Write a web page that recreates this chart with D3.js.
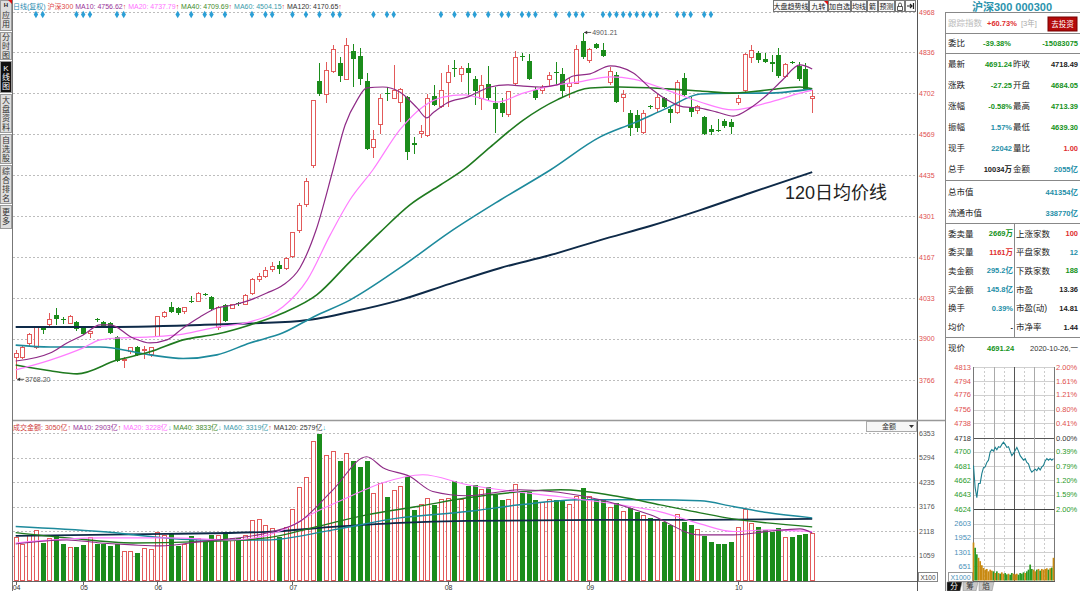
<!DOCTYPE html>
<html>
<head>
<meta charset="utf-8">
<script src="https://cdn.jsdelivr.net/npm/d3@7"></script>
<style>
body { margin: 0; background: #fff; }
svg { display: block; }
text { font-family: "Liberation Sans", "Noto Sans CJK SC", sans-serif; }
</style>
</head>
<body>
<div id="chart"></div>
<script>
// ---- daily candles ----
var open  = [3841,3841,3884,3871,3935,3946,3978,3965,3952,3955,3939,3919,3965,3955,3951,3907,3830,3858,3874,3862,3848,3907,3975,4004,4001,3991,4025,4024,4047,4037,3936,4011,4001,4016,4014,4050,4093,4105,4128,4140,4130,4170,4255,4340,4468,4743,4700,4775,4801,4749,4841,4825,4744,4527,4602,4702,4687,4674,4690,4540,4570,4566,4694,4658,4739,4785,4765,4785,4749,4684,4733,4671,4671,4632,4733,4823,4808,4713,4713,4749,4772,4765,4726,4736,4873,4808,4863,4844,4739,4762,4690,4638,4632,4576,4660,4654,4687,4651,4641,4752,4658,4645,4625,4586,4582,4612,4609,4671,4710,4818,4834,4815,4805,4828,4756,4805,4790,4782,4684]
var high  = [3864,3880,3920,3940,3938,3985,4001,3971,3978,3960,3942,3927,3968,3960,3955,3910,3842,3875,3876,3878,3875,3975,3992,4021,4005,4006,4040,4052,4050,4040,4008,4015,4015,4022,4046,4100,4115,4135,4150,4155,4168,4250,4345,4425,4680,4802,4805,4860,4821,4883,4863,4850,4770,4583,4700,4723,4795,4720,4695,4560,4600,4700,4730,4770,4795,4811,4790,4801,4760,4762,4790,4723,4687,4710,4841,4834,4830,4723,4730,4772,4805,4785,4752,4860,4901,4850,4866,4866,4788,4772,4713,4648,4648,4648,4665,4700,4690,4658,4745,4770,4690,4665,4628,4600,4618,4618,4620,4697,4835,4860,4840,4835,4828,4850,4800,4808,4805,4800,4713]
var low   = [3768,3835,3878,3868,3915,3940,3946,3948,3950,3925,3912,3903,3957,3936,3915,3826,3805,3850,3845,3835,3840,3905,3970,3985,3978,3982,4018,4020,4040,3995,3930,3955,3998,4008,4010,4045,4085,4098,4118,4112,4125,4165,4245,4330,4460,4695,4671,4770,4739,4745,4723,4729,4518,4491,4570,4677,4683,4609,4485,4505,4555,4560,4660,4655,4658,4756,4740,4697,4665,4648,4680,4573,4625,4625,4730,4808,4745,4680,4700,4723,4729,4690,4687,4733,4815,4801,4847,4821,4729,4671,4641,4563,4575,4570,4650,4640,4655,4606,4635,4690,4625,4635,4565,4565,4576,4590,4570,4665,4705,4801,4800,4800,4772,4752,4752,4798,4742,4718,4639]
var close = [3851,3871,3916,3936,3929,3965,3965,3963,3972,3933,3916,3923,3961,3939,3920,3828,3834,3871,3848,3866,3871,3972,3988,3988,3985,4004,4023,4050,4044,3998,4004,3959,4011,4013,4043,4093,4103,4125,4138,4129,4163,4247,4335,4415,4678,4700,4778,4847,4759,4857,4814,4749,4520,4550,4684,4699,4713,4716,4511,4533,4578,4684,4664,4713,4772,4782,4782,4769,4710,4729,4687,4651,4638,4707,4821,4821,4749,4687,4723,4759,4769,4710,4736,4847,4821,4847,4850,4824,4775,4674,4697,4589,4589,4638,4657,4690,4658,4638,4739,4697,4641,4658,4570,4576,4580,4596,4592,4684,4828,4841,4811,4805,4798,4759,4798,4801,4750,4718,4691]
// turnover, axis units (x100)
var amount = [1868,1536,1924,2153,1609,1825,1924,1579,1436,1436,1536,1851,1579,1579,1493,1579,1247,1247,1204,1393,1350,2066,1924,2010,1493,1536,1924,1825,1678,1967,1924,2110,1825,1825,1924,2584,2614,2368,2256,1868,2299,3076,4025,4456,5992,6330,5375,5561,5130,5461,5130,4888,5130,3766,4197,3594,3878,4051,4456,3046,3261,3550,3261,3507,3550,4267,3507,4051,4124,3909,4038,3693,3477,3477,4124,3779,3822,3477,3348,3477,3477,3477,3261,3607,3995,3607,3477,3477,3132,3348,2959,3132,2959,2787,2700,2614,2528,2399,2830,2528,2399,2183,1924,1678,1579,1579,1652,2299,3076,2442,2299,2183,2110,2256,1868,1894,1967,2010,2041]

var monthLabels = ["04", "05", "06", "07", "08", "09", "10"]
var monthIndex = [0, 10, 21, 41, 64, 85, 107]
var priceTicks = [4968, 4836, 4702, 4569, 4435, 4301, 4167, 4033, 3900, 3766]
var amountTicks = [6353, 5294, 4235, 3176, 2118, 1059]
var signalIndex = [3,4,9,10,11,15,16,24,26,28,29,31,35,37,38,41,43,45,47,48,53,55,56,63,65,67,68,70,72,73,75,76,77,80,82,83,84,87,88,89,90,91,92,93,94,95,98,99,100,102,103]

// moving averages read at [bar index, value]
var ma10 = [[0,3828],[5.1,3854],[7.6,3887],[10,3913],[12.5,3946],[14,3946],[17.4,3903],[19.9,3887],[22.4,3897],[24.8,3936],[27.3,3972],[29.8,4001],[32.2,4011],[34.7,4027],[37.2,4050],[39.6,4076],[42.1,4132],[44.5,4256],[47,4452],[48.8,4599],[50.6,4681],[52,4720],[54.4,4723],[56.9,4707],[59.5,4654],[60.9,4622],[61.8,4638],[63.9,4671],[66.9,4690],[70.3,4723],[72.8,4730],[75.2,4726],[77.7,4723],[80.2,4730],[82.6,4759],[85.1,4766],[88.1,4792],[89.5,4788],[91.5,4769],[94,4720],[96.5,4681],[98.9,4658],[101.4,4654],[103.9,4641],[106.3,4628],[108.8,4654],[111.3,4697],[113.6,4746],[116.2,4795],[118,4782]]
var ma20 = [[0,3799],[5.1,3831],[10,3871],[12.5,3897],[15,3903],[19.9,3907],[24.8,3916],[29.8,3939],[34.7,3956],[39.6,4005],[43.2,4093],[46.6,4240],[49.5,4354],[52.9,4452],[56.9,4583],[60.3,4658],[63.3,4690],[66.3,4697],[68.3,4690],[71.3,4674],[75.2,4703],[80.2,4730],[83.2,4739],[88.1,4756],[91.5,4749],[96.5,4713],[101.4,4674],[106.3,4648],[111.3,4671],[116.2,4703],[118,4713]]
var ma40 = [[0,3815],[5.1,3796],[9.1,3786],[15,3831],[19.9,3858],[24.8,3897],[29.8,3916],[34.7,3946],[39.6,3985],[44.6,4044],[49.5,4152],[54,4249],[58.4,4338],[62.9,4403],[66.3,4452],[70.3,4527],[75.2,4615],[80.2,4681],[85.1,4720],[89.5,4723],[96.5,4717],[101.4,4710],[106.3,4703],[111.3,4713],[116.2,4723],[118,4717]]
var ma60 = [[0,3880],[5.1,3874],[12.5,3874],[19.9,3848],[24.8,3836],[29.8,3848],[34.7,3887],[39.6,3920],[44.1,3972],[49.5,4027],[56.9,4132],[64.3,4249],[71.8,4354],[79.2,4452],[86.6,4560],[91.5,4605],[96.5,4654],[101.4,4700],[106.3,4703],[111.3,4703],[118,4717]]
var ma120 = [[0,3939],[12.5,3939],[27.3,3946],[42.1,3959],[49.5,3988],[56.9,4027],[64.3,4080],[71.8,4132],[79.2,4174],[86.6,4223],[94,4269],[101.4,4321],[108.8,4377],[118,4445]]

var vma10 = [[0,1579],[7.6,1751],[12.5,1622],[17.4,1536],[21.4,1493],[27.3,1678],[37.2,2053],[42.1,2541],[47,3908],[52,5332],[54.4,4858],[58.4,4482],[61.8,3835],[66.9,3650],[74.7,3908],[86.6,3477],[94,2830],[101.4,1967],[106.3,1967],[111.3,2110],[116.2,2226],[118,2053]]
var vma20 = [[0,1622],[12.5,1838],[22.4,1838],[32.2,1751],[39.6,2183],[44.6,2972],[49.5,3619],[54.4,4210],[60.3,4556],[66.9,4124],[71.8,3908],[80.7,3607],[89.5,3261],[95.5,2959],[101.4,2442],[106.3,2110],[111.3,2183],[118,2110]]
var vma40 = [[0,2066],[7.6,1838],[17.4,1622],[27.3,1678],[37.2,1838],[44.6,2325],[52,2830],[59.5,3188],[66.9,3563],[74.7,3822],[80.7,3908],[89.5,3607],[95.5,3261],[101.4,2916],[106.3,2657],[111.3,2485],[118,2312]]
var vma60 = [[0,2325],[12.5,2110],[27.3,1751],[37.2,1751],[47,2183],[56.9,2700],[66.9,2972],[74.7,3261],[83.6,3477],[94,3477],[101.4,3434],[106.3,3188],[111.3,2929],[118,2700]]
var vma120 = [[0,1924],[22.4,2010],[37.2,2097],[47,2312],[56.9,2485],[66.9,2571],[86.6,2614],[101.4,2614],[118,2657]]

// intraday (every 5 minutes)
var minutePrice = [4682,4652,4639,4658,4658,4671,4679,4680,4686,4689,4700,4703,4701,4706,4703,4707,4706,4710,4713,4710,4706,4707,4701,4695,4698,4702,4706,4701,4695,4692,4689,4691,4686,4684,4677,4673,4675,4677,4675,4679,4676,4680,4682,4688,4691,4689,4691,4689,4691]
var minuteAmount = [1739,1500,1200,1040,886,700,576,500,529,420,498,451,420,343,420,343,312,374,312,343,281,312,266,343,312,281,312,266,343,312,374,343,420,498,731,529,498,420,498,529,451,529,498,529,560,498,560,591,1040]
var minuteTicks = [4813,4794,4776,4756,4738,4718,4700,4681,4662,4643,4624]
var minutePct = ["2.00%","1.61%","1.21%","0.80%","0.41%","0.00%","0.39%","0.79%","1.20%","1.59%","2.00%"]
var minuteAmountTicks = [2603, 1952, 1301, 651]

var up = "#e25a5a", down = "#1b8c1b"
var red = "#e03030", green = "#14921a", teal = "#1f8fa8", ink = "#222"

var svg = d3.select("#chart").append("svg")
	.attr("width", 1080)
	.attr("height", 591)
	.style("background", "#fff")

var x = d3.scaleLinear().domain([0, close.length - 1]).range([15.7, 812.2])
var y = d3.scaleLinear().domain([3766, 4968]).range([380, 12])
var yv = d3.scaleLinear().domain([0, 6353]).range([580.6, 433])

var bars = close.map((c, i) => ({i: i, o: open[i], h: high[i], l: low[i], c: c, v: amount[i], up: c >= open[i]}))

// ---- grid ----
var grid = svg.append("g").attr("stroke", "#bdbdbd").attr("stroke-dasharray", "2,2")
grid.selectAll(".pg").data(priceTicks).join("line")
	.attr("x1", 13).attr("x2", 917)
	.attr("y1", d => Math.round(y(d)) + 0.5).attr("y2", d => Math.round(y(d)) + 0.5)
grid.selectAll(".vg").data(amountTicks).join("line")
	.attr("class", "vg")
	.attr("x1", 13).attr("x2", 917)
	.attr("y1", d => Math.round(yv(d)) + 0.5).attr("y2", d => Math.round(yv(d)) + 0.5)

// ---- frame lines ----
svg.append("line").attr("x1", 12.5).attr("x2", 12.5).attr("y1", 0).attr("y2", 591).attr("stroke", "#777")
svg.append("line").attr("x1", 917.5).attr("x2", 917.5).attr("y1", 0).attr("y2", 591).attr("stroke", "#555")
svg.append("line").attr("x1", 13).attr("x2", 945).attr("y1", 420.5).attr("y2", 420.5).attr("stroke", "#999").attr("stroke-width", 1.6)
svg.append("line").attr("x1", 13).attr("x2", 917).attr("y1", 581.5).attr("y2", 581.5).attr("stroke", "#666")

// ---- price axis labels ----
svg.append("g").selectAll("text").data(priceTicks).join("text")
	.attr("x", 919).attr("y", d => y(d))
	.attr("dominant-baseline", "central")
	.attr("font-size", 7).attr("fill", "#e05050")
	.text(d => d)
svg.append("g").selectAll("text").data(amountTicks).join("text")
	.attr("x", 919).attr("y", d => yv(d))
	.attr("dominant-baseline", "central")
	.attr("font-size", 7).attr("fill", "#555")
	.text(d => d)
svg.append("rect").attr("x", 918.5).attr("y", 572.5).attr("width", 19).attr("height", 9).attr("fill", "#fff").attr("stroke", "#888")
svg.append("text").attr("x", 928).attr("y", 577.5).attr("text-anchor", "middle").attr("dominant-baseline", "central")
	.attr("font-size", 6.5).attr("fill", "#444").text("X100")

// ---- month axis ----
var mx = svg.append("g")
mx.selectAll("line").data(monthIndex).join("line")
	.attr("x1", d => Math.round(x(d)) + 0.5).attr("x2", d => Math.round(x(d)) + 0.5)
	.attr("y1", 581).attr("y2", 585).attr("stroke", "#666")
mx.selectAll("text").data(monthLabels).join("text")
	.attr("x", (d, i) => x(monthIndex[i]) - 3).attr("y", 587.5)
	.attr("dominant-baseline", "central")
	.attr("font-size", 7).attr("fill", "#333")
	.text(d => d)

// ---- candles ----
var cg = svg.append("g").attr("shape-rendering", "crispEdges")
cg.selectAll(".wick").data(bars).join("path")
	.attr("class", "wick")
	.attr("stroke", d => d.up ? up : down)
	.attr("fill", "none")
	.attr("d", d => {
		var cx = Math.round(x(d.i)) + 0.5
		if (!d.up) return `M${cx},${y(d.h)}L${cx},${y(d.l)}`
		return `M${cx},${y(d.h)}L${cx},${y(d.c)}M${cx},${y(d.o)}L${cx},${y(d.l)}`
	})
cg.selectAll(".body").data(bars).join("rect")
	.attr("class", "body")
	.attr("x", d => d.up ? Math.round(x(d.i)) - 1.5 : Math.round(x(d.i)) - 2)
	.attr("width", d => d.up ? 4 : 5)
	.attr("y", d => y(Math.max(d.o, d.c)))
	.attr("height", d => Math.max(Math.abs(y(d.o) - y(d.c)), 1))
	.attr("fill", d => d.up ? "#fff" : down)
	.attr("stroke", d => d.up ? up : "none")

// ---- volume bars ----
var vg = svg.append("g").attr("shape-rendering", "crispEdges")
vg.selectAll("rect").data(bars).join("rect")
	.attr("x", d => d.up ? Math.round(x(d.i)) - 1.5 : Math.round(x(d.i)) - 2)
	.attr("width", d => d.up ? 4 : 5)
	.attr("y", d => yv(d.v))
	.attr("height", d => yv(0) - yv(d.v))
	.attr("fill", d => d.up ? "#fff" : down)
	.attr("stroke", d => d.up ? up : "none")

// ---- moving average lines ----
var lineP = d3.line().x(d => x(d[0])).y(d => y(d[1])).curve(d3.curveMonotoneX)
var lineV = d3.line().x(d => x(d[0])).y(d => yv(d[1])).curve(d3.curveMonotoneX)
var maStyle = [
	[ma120, vma120, "#0e2a48", 2],
	[ma60, vma60, "#1d8a9c", 1.6],
	[ma40, vma40, "#1f7a1f", 1.6],
	[ma20, vma20, "#ff7cff", 1.2],
	[ma10, vma10, "#8e2a86", 1.2]
]
maStyle.forEach(s => {
	svg.append("path").datum(s[0]).attr("fill", "none").attr("stroke", s[2]).attr("stroke-width", s[3]).attr("d", lineP)
	svg.append("path").datum(s[1]).attr("fill", "none").attr("stroke", s[2]).attr("stroke-width", s[3] * 0.9).attr("d", lineV)
})

// ---- signal diamonds ----
svg.append("g").selectAll("path").data(signalIndex).join("path")
	.attr("transform", d => `translate(${x(d)},14.5)`)
	.attr("d", d3.symbol(d3.symbolDiamond, 17))
	.attr("fill", "#2b9fd6")

// ---- extreme markers ----
function marker(i, v, label) {
	var cx = x(i) + 1.5, cy = y(v)
	svg.append("line").attr("x1", cx).attr("x2", cx + 7).attr("y1", cy).attr("y2", cy).attr("stroke", "#333").attr("stroke-width", 0.8)
	svg.append("path").attr("d", `M${cx},${cy}l3,-1.8v3.6z`).attr("fill", "#333")
	svg.append("text").attr("x", cx + 8).attr("y", cy).attr("dominant-baseline", "central")
		.attr("font-size", 7).attr("fill", "#555").text(label)
}
marker(0, 3768.20, "3768.20")
marker(84, 4901.21, "4901.21")

svg.append("text").attr("x", 785).attr("y", 193).attr("dominant-baseline", "central")
	.attr("font-size", 18).attr("fill", "#222").text("120日均价线")

// ---- chart headers ----
function header(yy, parts) {
	var t = svg.append("text").attr("x", 13).attr("y", yy).attr("dominant-baseline", "central").attr("font-size", 7)
	parts.forEach(p => t.append("tspan").attr("fill", p[1]).text(p[0]))
}
var upA = "#e03030", dnA = "#19b3c8"
header(5.5, [["日线(复权) ", "#2a8cb0"], ["沪深300 ", "#e04848"], ["MA10: 4756.62", "#993399"], ["↑ ", upA],
	["MA20: 4737.79", "#ff70ff"], ["↑ ", upA], ["MA40: 4709.69", "#3f8a2a"], ["↑ ", upA],
	["MA60: 4504.15", "#3a9aaa"], ["↑ ", upA], ["MA120: 4170.65", "#333"], ["↑", upA]])
header(427, [["成交金额: 3050亿", "#d04040"], ["↑ ", upA], ["MA10: 2903亿", "#993399"], ["↑ ", upA],
	["MA20: 3228亿", "#ff70ff"], ["↓ ", dnA], ["MA40: 3833亿", "#3f8a2a"], ["↓ ", dnA],
	["MA60: 3319亿", "#3a9aaa"], ["↑ ", upA], ["MA120: 2579亿", "#333"], ["↓", dnA]])

svg.append("rect").attr("x", 866.5).attr("y", 421.5).attr("width", 50).attr("height", 10).attr("fill", "#f6f6f6").attr("stroke", "#aaa")
svg.append("text").attr("x", 889).attr("y", 426.5).attr("text-anchor", "middle").attr("dominant-baseline", "central").attr("font-size", 7).attr("fill", "#333").text("金额")
svg.append("path").attr("d", "M909,425h5l-2.5,3z").attr("fill", "#333")

// ---- toolbar ----
var tools = [["大盘趋势线", 773, 809], ["九转", 809, 828], ["加自选", 828, 851], ["均线", 851, 867], ["箭", 867, 878], ["预测", 878, 895], ["", 895, 905], ["", 905, 916]]
var tb = svg.append("g")
tools.forEach(t => {
	tb.append("rect").attr("x", t[1] + 0.5).attr("y", 0.5).attr("width", t[2] - t[1] - 1).attr("height", 11).attr("fill", "#fafafa").attr("stroke", "#777")
	tb.append("text").attr("x", (t[1] + t[2]) / 2).attr("y", 6.5).attr("text-anchor", "middle").attr("dominant-baseline", "central")
		.attr("font-size", 7).attr("fill", "#222").text(t[0])
})
tb.append("path").attr("d", "M824,1h4v4z").attr("fill", "#e01010")
tb.append("path").attr("d", "M897.5,6.5h5v4h-5z M898.5,6.5v-2a1.5,1.5 0 0 1 3,0v2").attr("fill", "none").attr("stroke", "#333").attr("stroke-width", 0.8)
tb.append("path").attr("d", "M907,6h5 M910,4l2,2l-2,2 M913.5,3v6").attr("fill", "none").attr("stroke", "#222").attr("stroke-width", 1.2)

// ---- left sidebar ----
var tabs = [["应用", 0, 31], ["分时图", 32, 60], ["K线图", 61, 93], ["大盘资料", 94, 133], ["自选股", 134, 164], ["综合排名", 165, 204], ["更多", 205, 229]]
var sb = svg.append("g")
tabs.forEach((t, k) => {
	var sel = t[0] === "K线图"
	sb.append("rect").attr("x", 0.5).attr("y", t[1] + 0.5).attr("width", 11).attr("height", t[2] - t[1] - 1)
		.attr("fill", sel ? "#111" : "#dedede").attr("stroke", "#9a9a9a")
	var chars = Array.from(t[0])
	var step = 9
	var top = (t[1] + t[2]) / 2 - (chars.length - 1) * step / 2 + (k === 0 ? 4 : 0)
	chars.forEach((c, j) => {
		sb.append("text").attr("x", 6).attr("y", top + j * step).attr("text-anchor", "middle").attr("dominant-baseline", "central")
			.attr("font-size", 8).attr("fill", sel ? "#fff" : "#333").text(c)
	})
})
sb.append("text").attr("x", 6).attr("y", 5).attr("text-anchor", "middle").attr("dominant-baseline", "central")
	.attr("font-size", 6).attr("font-weight", "bold").attr("fill", "#222").text("H")
sb.append("path").attr("d", "M8,0h4v4z").attr("fill", "#e01010")

// ---- right quote panel ----
var rp = svg.append("g")
rp.append("text").attr("x", 1012).attr("y", 7).attr("text-anchor", "middle").attr("dominant-baseline", "central")
	.attr("font-size", 11).attr("font-weight", "bold").attr("fill", "#2a93ad").text("沪深300 000300")
;[12.5, 33.5, 53.5, 180.5, 223.5, 337.5].forEach(v => {
	rp.append("line").attr("x1", 945).attr("x2", 1080).attr("y1", v).attr("y2", v).attr("stroke", "#888")
})
rp.append("line").attr("x1", 945.5).attr("x2", 945.5).attr("y1", 12).attr("y2", 591).attr("stroke", "#888")
rp.append("line").attr("x1", 1014.5).attr("x2", 1014.5).attr("y1", 223).attr("y2", 337).attr("stroke", "#888")

function cell(xx, yy, txt, col, anchor, bold, size) {
	rp.append("text").attr("x", xx).attr("y", yy).attr("dominant-baseline", "central")
		.attr("text-anchor", anchor || "start").attr("font-size", size || 8)
		.attr("font-weight", bold ? "bold" : "normal").attr("fill", col).text(txt)
}
cell(948, 23, "跟踪指数", "#bbb", "start", false, 8.5)
cell(987, 23, "+60.73%", red, "start", true, 7.5)
cell(1021, 23, "[3年]", "#aaa", "start", false, 7.5)
rp.append("rect").attr("x", 1048).attr("y", 17).attr("width", 29).attr("height", 14).attr("fill", "#b40a0a").attr("stroke", "#700")
cell(1062.5, 24, "去投资", "#fff", "middle", false, 7.5)
cell(948, 43, "委比", ink, "start", false, 8.5)
cell(983, 43, "-39.38%", green, "start", true, 7.5)
cell(1078, 43, "-15083075", green, "end", true, 7.5)

var quoteRows = [
	["最新", "4691.24", green, "昨收", "4718.49", ink],
	["涨跌", "-27.25", green, "开盘", "4684.05", green],
	["涨幅", "-0.58%", green, "最高", "4713.39", green],
	["振幅", "1.57%", teal, "最低", "4639.30", green],
	["现手", "22042", teal, "量比", "1.00", red],
	["总手", "10034万", ink, "金额", "2055亿", teal]
]
quoteRows.forEach((r, k) => {
	var yy = 64 + k * 21
	cell(948, yy, r[0], ink, "start", false, 8.5)
	cell(1012, yy, r[1], r[2], "end", true, 7.5)
	cell(1013, yy, r[3], ink, "start", false, 8.5)
	cell(1078, yy, r[4], r[5], "end", true, 7.5)
})
cell(948, 192, "总市值", ink, "start", false, 8.5)
cell(1078, 192, "441354亿", teal, "end", true, 7.5)
cell(948, 213, "流通市值", ink, "start", false, 8.5)
cell(1078, 213, "338770亿", teal, "end", true, 7.5)

var bookRows = [
	["委卖量", "2669万", green, "上涨家数", "100", red],
	["委买量", "1161万", red, "平盘家数", "12", teal],
	["卖金额", "295.2亿", teal, "下跌家数", "188", green],
	["买金额", "145.8亿", teal, "市盈", "13.36", ink],
	["换手", "0.39%", teal, "市盈(动)", "14.81", ink],
	["均价", "-", ink, "市净率", "1.44", ink]
]
bookRows.forEach((r, k) => {
	var yy = 233.5 + k * 18.7
	cell(948, yy, r[0], ink, "start", false, 8.5)
	cell(1013, yy, r[1], r[2], "end", true, 7.5)
	cell(1016, yy, r[3], ink, "start", false, 8.5)
	cell(1078, yy, r[4], r[5], "end", true, 7.5)
})
cell(948, 348, "现价", ink, "start", false, 8.5)
cell(987, 348, "4691.24", green, "start", true, 7.5)
cell(1078, 348, "2020-10-26,一", "#333", "end", false, 7.5)

// ---- intraday chart ----
var xm = d3.scaleLinear().domain([0, 240]).range([973.5, 1053.5])
var yp = d3.scaleLinear().domain([4624, 4813]).range([509, 367])
var yq = d3.scaleLinear().domain([0, 2603]).range([580.5, 523.7])
var ig = svg.append("g")
ig.selectAll(".hg").data(minuteTicks).join("line")
	.attr("x1", 973).attr("x2", 1054)
	.attr("y1", d => Math.round(yp(d)) + 0.5).attr("y2", d => Math.round(yp(d)) + 0.5)
	.attr("stroke", d => d === 4718 ? "#555" : "#d0d0d0")
ig.selectAll(".qg").data(minuteAmountTicks).join("line")
	.attr("class", "qg")
	.attr("x1", 973).attr("x2", 1054)
	.attr("y1", d => Math.round(yq(d)) + 0.5).attr("y2", d => Math.round(yq(d)) + 0.5)
	.attr("stroke", "#d0d0d0")
;[30, 60, 90, 120, 150, 180, 210].forEach(m => {
	ig.append("line").attr("x1", Math.round(xm(m)) + 0.5).attr("x2", Math.round(xm(m)) + 0.5).attr("y1", 367).attr("y2", 581)
		.attr("stroke", m === 120 ? "#555" : (m % 60 === 0 ? "#aaa" : "#ccc"))
		.attr("stroke-dasharray", m % 60 === 0 ? null : "2,2")
})
ig.append("line").attr("x1", 973).attr("x2", 1054).attr("y1", 509.5).attr("y2", 509.5).attr("stroke", "#444")
ig.append("line").attr("x1", 973.5).attr("x2", 973.5).attr("y1", 367).attr("y2", 581).attr("stroke", "#777")
ig.append("line").attr("x1", 1054.5).attr("x2", 1054.5).attr("y1", 367).attr("y2", 581).attr("stroke", "#777")
ig.append("line").attr("x1", 973).attr("x2", 1055).attr("y1", 581.5).attr("y2", 581.5).attr("stroke", "#555")

ig.selectAll(".pl").data(minuteTicks).join("text")
	.attr("class", "pl")
	.attr("x", 971).attr("y", d => yp(d)).attr("text-anchor", "end").attr("dominant-baseline", "central")
	.attr("font-size", 7.5)
	.attr("fill", d => d > 4718 ? "#e05050" : (d === 4718 ? "#333" : "#2a9a2a"))
	.text(d => d)
ig.selectAll(".pp").data(minutePct).join("text")
	.attr("class", "pp")
	.attr("x", 1056).attr("y", (d, i) => yp(minuteTicks[i])).attr("dominant-baseline", "central")
	.attr("font-size", 7.5)
	.attr("fill", (d, i) => i < 5 ? "#e05050" : (i === 5 ? "#333" : "#2a9a2a"))
	.text(d => d)
ig.selectAll(".ql").data(minuteAmountTicks).join("text")
	.attr("class", "ql")
	.attr("x", 971).attr("y", d => yq(d)).attr("text-anchor", "end").attr("dominant-baseline", "central")
	.attr("font-size", 7.5).attr("fill", "#4a90b8")
	.text(d => d)
ig.append("rect").attr("x", 948.5).attr("y", 572.5).attr("width", 24).attr("height", 9).attr("fill", "#fff").attr("stroke", "#999")
ig.append("text").attr("x", 960.5).attr("y", 577.5).attr("text-anchor", "middle").attr("dominant-baseline", "central")
	.attr("font-size", 7).attr("fill", "#4a90b8").text("X1000")

ig.selectAll(".mv").data(minuteAmount).join("rect")
	.attr("class", "mv")
	.attr("x", (d, i) => xm(i * 5) - 0.85).attr("width", 1.7)
	.attr("y", d => yq(d)).attr("height", d => yq(0) - yq(d))
	.attr("fill", (d, i) => (i === 0 || minutePrice[i] >= minutePrice[i - 1]) ? "#c98a12" : "#2c9a22")

ig.append("path").datum(minutePrice)
	.attr("fill", "none").attr("stroke", "#1b7f8e").attr("stroke-width", 1.1)
	.attr("d", d3.line().x((d, i) => xm(i * 5)).y(d => yp(d)))

// bottom tabs
;[["分", 947, true], ["筹", 963, false], ["焰", 979, false]].forEach(t => {
	ig.append("path").attr("d", `M${t[1]},582h15l-2,9h-13z`).attr("fill", t[2] ? "#111" : "#c8c8c8").attr("stroke", "#888").attr("stroke-width", 0.5)
	ig.append("text").attr("x", t[1] + 7).attr("y", 586.5).attr("text-anchor", "middle").attr("dominant-baseline", "central")
		.attr("font-size", 7.5).attr("fill", t[2] ? "#fff" : "#333").text(t[0])
})
</script>
</body>
</html>
